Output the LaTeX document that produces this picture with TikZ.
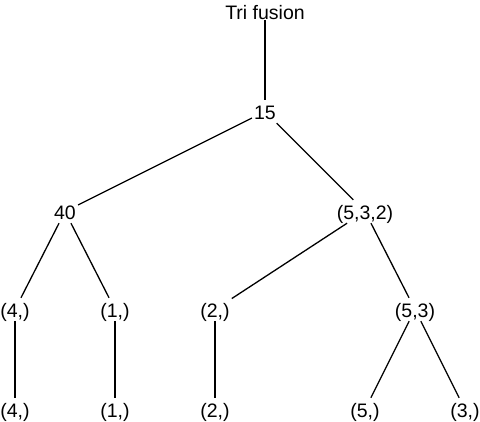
\documentclass[tikz,border=0pt]{standalone}
\usepackage{fontspec}
\setmainfont{Liberation Sans}
\begin{document}
\begin{tikzpicture}[x=1pt,y=-1pt,
  lbl/.style={anchor=base,inner sep=0pt,inner xsep=2pt,text height=20pt,text depth=3pt,
    font=\fontsize{19.5}{22}\selectfont},
  edge/.style={line width=1.3pt,black}]
\useasboundingbox (0,0) rectangle (480,422);
% root label and split tree
\node[lbl,text depth=0pt] (root) at (265,20) {Tri fusion};
\node[lbl] (n15) at (265,120) {15};
\node[lbl] (n40) at (65,220) {40};
\node[lbl] (n532) at (365,220) {(5,3,2)};
\node[lbl] (a4) at (15,318) {(4,)};
\node[lbl] (a1) at (115,318) {(1,)};
\node[lbl] (a2) at (215,318) {(2,)};
\node[lbl] (a53) at (415,318) {(5,3)};
\node[lbl] (b4) at (15,418) {(4,)};
\node[lbl] (b1) at (115,418) {(1,)};
\node[lbl] (b2) at (215,418) {(2,)};
\node[lbl] (b5) at (365,418) {(5,)};
\node[lbl] (b3) at (465,418) {(3,)};
% connectors
\draw[edge] (root.south) -- (n15);
\draw[edge] (n15) -- (n40);
\draw[edge] (n15) -- (n532);
\draw[edge] (n40) -- (a4);
\draw[edge] (n40) -- (a1);
\draw[edge] (n532) -- (a2);
\draw[edge] (n532) -- (a53);
\draw[edge] (a4) -- (b4);
\draw[edge] (a1) -- (b1);
\draw[edge] (a2) -- (b2);
\draw[edge] (a53) -- (b5);
\draw[edge] (a53) -- (b3);
\end{tikzpicture}
\end{document}
